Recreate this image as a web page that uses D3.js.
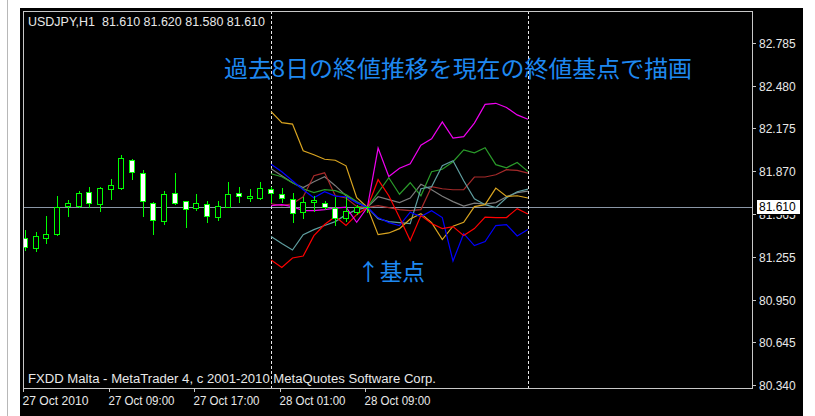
<!DOCTYPE html>
<html><head><meta charset="utf-8">
<script src="https://cdn.jsdelivr.net/npm/d3@7"></script>
<style>body{margin:0;background:#fff;overflow:hidden}svg{display:block}</style>
</head><body><svg id="c" width="815" height="416"></svg>
<script>
// ---- data ----
const symbolInfo = "USDJPY,H1  81.610 81.620 81.580 81.610";
const copyright = "FXDD Malta - MetaTrader 4, c 2001-2010 MetaQuotes Software Corp.";
const titleText = "過去8日の終値推移を現在の終値基点で描画";
const baseText = "↑基点";
const currentPrice = 81.610;

const candleOpen  = [81.394,81.323,81.394,81.423,81.622,81.622,81.722,81.636,81.743,81.750,81.950,81.857,81.644,81.515,81.715,81.658,81.608,81.636,81.544,81.615,81.715,81.679,81.679,81.743,81.708,81.672,81.579,81.651,81.644,81.608,81.537,81.579,81.610];
const candleHigh  = [81.451,81.437,81.551,81.693,81.665,81.729,81.758,81.755,81.815,81.986,81.957,81.879,81.651,81.729,81.857,81.658,81.708,81.658,81.658,81.793,81.758,81.743,81.793,81.758,81.750,81.715,81.686,81.693,81.658,81.686,81.686,81.629,81.620];
const candleLow   = [81.308,81.301,81.358,81.415,81.551,81.615,81.615,81.586,81.672,81.743,81.815,81.551,81.422,81.494,81.636,81.472,81.594,81.508,81.522,81.612,81.651,81.658,81.672,81.651,81.651,81.508,81.537,81.586,81.601,81.487,81.515,81.565,81.580];
const candleClose = [81.330,81.408,81.423,81.615,81.644,81.715,81.644,81.750,81.772,81.964,81.865,81.658,81.522,81.708,81.644,81.601,81.644,81.551,81.622,81.708,81.693,81.693,81.750,81.715,81.679,81.572,81.651,81.665,81.615,81.537,81.586,81.615,81.610];

// bar index where the 8 overlay series start (25 bars each, passing through current close at bar 32)
const seriesStartBar = 23;
const seriesYellow  = [82.294,82.216,82.205,82.014,81.986,81.954,81.947,81.907,81.679,81.610,81.415,81.427,81.458,81.527,81.565,81.501,81.380,81.475,81.503,81.615,81.629,81.748,81.688,81.693,81.677];
const seriesMagenta = [81.622,81.629,81.615,81.586,81.586,81.594,81.604,81.611,81.503,81.610,82.034,81.831,81.890,81.922,82.054,82.100,82.221,82.105,82.116,82.212,82.346,82.354,82.324,82.271,82.240];
const seriesGreen   = [81.850,81.829,81.786,81.743,81.715,81.736,81.729,81.701,81.651,81.610,81.715,81.822,81.704,81.786,81.693,81.865,81.882,81.936,82.021,82.000,82.036,81.915,81.893,81.931,81.867];
const seriesBrown   = [81.636,81.622,81.636,81.686,81.836,81.857,81.693,81.677,81.617,81.610,81.622,81.608,81.594,81.586,81.594,81.758,81.743,81.736,81.736,81.827,81.827,81.843,81.879,81.874,81.855];
const seriesGray    = [81.886,81.836,81.786,81.751,81.793,81.829,81.765,81.693,81.644,81.610,81.686,81.665,81.644,81.676,81.775,81.736,81.690,81.651,81.619,81.640,81.633,81.644,81.686,81.715,81.726];
const seriesCadet   = [81.401,81.351,81.305,81.415,81.451,81.480,81.508,81.558,81.594,81.610,81.529,81.508,81.501,81.494,81.743,81.758,81.907,81.943,81.800,81.672,81.629,81.608,81.679,81.722,81.740];
const seriesBlue    = [81.918,81.865,81.800,81.736,81.679,81.722,81.690,81.686,81.644,81.610,81.537,81.501,81.480,81.576,81.544,81.586,81.537,81.226,81.422,81.337,81.365,81.480,81.487,81.405,81.451];
const seriesRed     = [81.234,81.180,81.248,81.262,81.408,81.487,81.544,81.480,81.558,81.610,81.808,81.693,81.537,81.373,81.551,81.494,81.458,81.472,81.408,81.458,81.540,81.537,81.537,81.601,81.562];

const yTickLabels = ["82.785","82.480","82.175","81.870","81.565","81.255","80.950","80.645","80.340"];
const xTickBars   = [0, 8, 16, 24, 32];
const xTickLabels = ["27 Oct 2010","27 Oct 09:00","27 Oct 17:00","28 Oct 01:00","28 Oct 09:00"];

// ---- styles ----
const seriesList = [
  {v: seriesGray,    c: "#7c7c7c"},
  {v: seriesBrown,   c: "#a52a2a"},
  {v: seriesGreen,   c: "#2a9a2a"},
  {v: seriesCadet,   c: "#5f9ea0"},
  {v: seriesYellow,  c: "#daa520"},
  {v: seriesBlue,    c: "#0000ff"},
  {v: seriesRed,     c: "#ff0000"},
  {v: seriesMagenta, c: "#f000f0"}
];
const FONT = "'Liberation Sans', Arial, sans-serif";
const CJK = "'Noto Sans CJK JP', sans-serif";

const svg = d3.select("#c");
const L = 23, R = 752, T = 11, B = 388;

// background
svg.append("rect").attr("width",815).attr("height",416).attr("fill","#fff");
svg.append("line").attr("x1",7.5).attr("x2",7.5).attr("y1",0).attr("y2",416).attr("stroke","#b8b8b8");
svg.append("rect").attr("x",20).attr("y",8).attr("width",783).attr("height",408).attr("fill","#000");

const x = d3.scaleLinear().domain([0, 68]).range([25, 25 + 68*10.7]);
const y = d3.scaleLinear().domain([80.340, 82.785]).range([385, 43]);

svg.append("defs").append("clipPath").attr("id","plot")
  .append("rect").attr("x",L+1).attr("y",T+1).attr("width",R-L-1).attr("height",B-T-1);

const plot = svg.append("g").attr("clip-path","url(#plot)");

// current price line
plot.append("line").attr("x1",L).attr("x2",R)
  .attr("y1",Math.round(y(currentPrice))+0.5).attr("y2",Math.round(y(currentPrice))+0.5)
  .attr("stroke","#8a96a6").attr("stroke-width",1);

// dashed vertical lines at start and end of overlay window
[seriesStartBar, seriesStartBar + seriesYellow.length - 1].forEach(b => {
  plot.append("line").attr("x1",Math.round(x(b))+0.5).attr("x2",Math.round(x(b))+0.5)
    .attr("y1",T).attr("y2",B).attr("stroke","#e8e8e8").attr("stroke-dasharray","3,2");
});

// overlay series
const line = d3.line().x((d,i)=>x(seriesStartBar+i)).y(d=>y(d));
seriesList.forEach(s => {
  plot.append("path").attr("d",line(s.v)).attr("fill","none")
    .attr("stroke",s.c).attr("stroke-width",1.2);
});

// candles
const cg = plot.append("g");
candleOpen.forEach((o,i) => {
  const c = candleClose[i], h = candleHigh[i], l = candleLow[i];
  const cx = Math.round(x(i));
  cg.append("line").attr("x1",cx+0.5).attr("x2",cx+0.5)
    .attr("y1",Math.round(y(h))).attr("y2",Math.round(y(l))+1)
    .attr("stroke","#00ff00");
  const top = Math.round(y(Math.max(o,c))), bot = Math.round(y(Math.min(o,c)));
  if (bot - top < 1) {
    cg.append("line").attr("x1",cx-3).attr("x2",cx+3).attr("y1",top+0.5).attr("y2",top+0.5).attr("stroke","#00ff00");
  } else {
    cg.append("rect").attr("x",cx-2.5).attr("y",top+0.5).attr("width",5).attr("height",bot-top)
      .attr("fill", c < o ? "#ffffff" : "#000000").attr("stroke","#00ff00");
  }
});

// frame
svg.append("rect").attr("x",L+0.5).attr("y",T+0.5).attr("width",R-L).attr("height",B-T)
  .attr("fill","none").attr("stroke","#c8c8c8");

// right axis
yTickLabels.forEach(t => {
  const yy = Math.round(y(+t))+0.5;
  svg.append("line").attr("x1",R).attr("x2",R+4).attr("y1",yy).attr("y2",yy).attr("stroke","#c8c8c8");
  svg.append("text").attr("x",R+7).attr("y",yy).attr("dy","0.35em")
    .attr("fill","#e8e8e8").attr("font-family",FONT).attr("font-size",12).text(t);
});
// current price box
const cpY = Math.round(y(currentPrice));
svg.append("rect").attr("x",R+4.5).attr("y",cpY-7.5).attr("width",44).attr("height",15)
  .attr("fill","#fff").attr("stroke","#000");
svg.append("text").attr("x",R+7).attr("y",cpY).attr("dy","0.35em")
  .attr("fill","#000").attr("font-family",FONT).attr("font-size",12).text(currentPrice.toFixed(3));

// bottom axis
xTickBars.forEach((b,i) => {
  const xx = Math.round(x(b)) - 1.5;
  svg.append("line").attr("x1",xx).attr("x2",xx).attr("y1",B).attr("y2",B+4).attr("stroke","#c8c8c8");
  svg.append("text").attr("x",xx-1).attr("y",405)
    .attr("fill","#e8e8e8").attr("font-family",FONT).attr("font-size",12)
    .attr("textLength",66).attr("lengthAdjust","spacingAndGlyphs").text(xTickLabels[i]);
});

// texts
svg.append("text").attr("x",28).attr("y",26).attr("fill","#e8e8e8")
  .attr("font-family",FONT).attr("font-size",12).style("white-space","pre")
  .attr("textLength",237).attr("lengthAdjust","spacingAndGlyphs").text(symbolInfo);
svg.append("text").attr("x",28).attr("y",383).attr("fill","#e8e8e8")
  .attr("font-family",FONT).attr("font-size",12)
  .attr("textLength",408).attr("lengthAdjust","spacingAndGlyphs").text(copyright);

svg.append("text").attr("x",224).attr("y",67).attr("dominant-baseline","central")
  .attr("fill","#1e88f0").attr("font-family",CJK).attr("font-size",23)
  .attr("textLength",468).attr("lengthAdjust","spacingAndGlyphs").text(titleText);
svg.append("text").attr("x",357).attr("y",270).attr("dominant-baseline","central")
  .attr("fill","#1e88f0").attr("font-family",CJK).attr("font-size",23)
  .attr("textLength",68).attr("lengthAdjust","spacingAndGlyphs").text(baseText);
</script>
</body></html>
